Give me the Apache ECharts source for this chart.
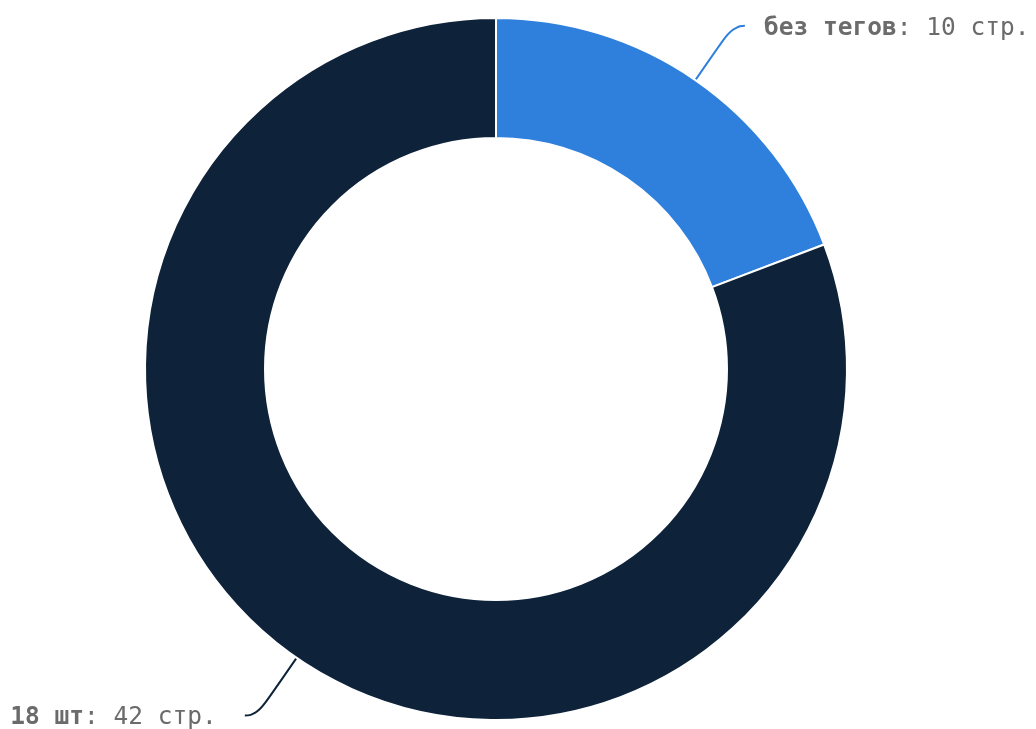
<!DOCTYPE html>
<html>
<head>
<meta charset="utf-8">
<script src="https://cdn.jsdelivr.net/npm/echarts@6/dist/echarts.min.js"></script>
<style>
  html, body { margin: 0; padding: 0; background: #fff; }
  #chart { width: 1036px; height: 729px; }
</style>
</head>
<body>
<div id="chart"></div>
<script>
var names = ['без тегов', '18 шт'];
var values = [10, 42];
var colors = ['#2F80DC', '#0E2339'];

var chart = echarts.init(document.getElementById('chart'));

var data = [];
for (var i = 0; i < names.length; i++) {
    data.push({ name: names[i], value: values[i], itemStyle: { color: colors[i] } });
}
// right-hand label sits a bit closer to its line than the left one
data[0].label = { distanceToLabelLine: 19 };
data[1].label = { distanceToLabelLine: 28 };
data[1].labelLine = { length: 70 };

chart.setOption({
    animation: false,
    series: [{
        type: 'pie',
        center: [496, 369],
        radius: [231, 351],
        startAngle: 90,
        clockwise: true,
        avoidLabelOverlap: false,
        itemStyle: { borderColor: '#fff', borderWidth: 2 },
        label: {
            fontFamily: 'DejaVu Sans Mono',
            fontSize: 24.5,
            color: '#6b6b6b',
            overflow: 'none',
            padding: [5, 0, 0, 0],
            formatter: function (p) {
                return '{b|' + p.name + '}: ' + p.value + ' стр.';
            },
            rich: {
                b: { fontFamily: 'DejaVu Sans Mono', fontSize: 24.5, fontWeight: 'bold', color: '#6b6b6b' }
            }
        },
        labelLine: {
            show: true,
            smooth: 0.6,
            length: 66,
            length2: 12,
            lineStyle: { width: 2 }
        },
        data: data
    }]
});
</script>
</body>
</html>
